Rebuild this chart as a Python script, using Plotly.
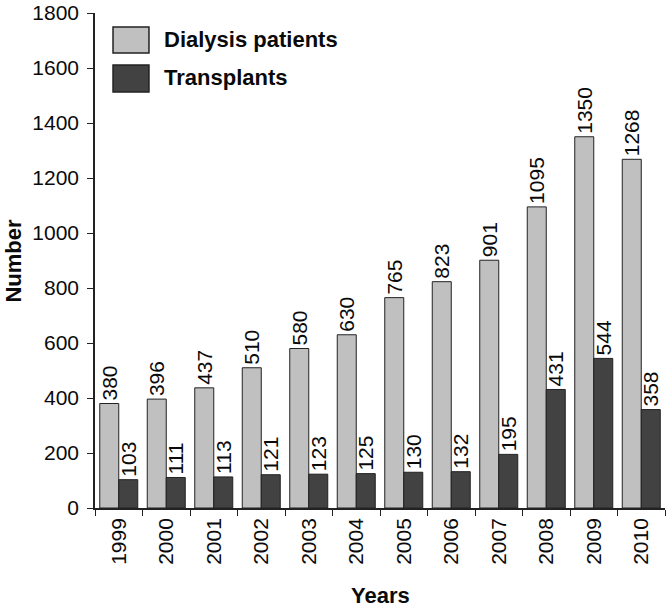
import plotly.graph_objects as go

years = ["1999", "2000", "2001", "2002", "2003", "2004", "2005", "2006", "2007", "2008", "2009", "2010"]
dialysis = [380, 396, 437, 510, 580, 630, 765, 823, 901, 1095, 1350, 1268]
transplants = [103, 111, 113, 121, 123, 125, 130, 132, 195, 431, 544, 358]
y_ticks = [0, 200, 400, 600, 800, 1000, 1200, 1400, 1600, 1800]

LIGHT = "#c0c0c0"
DARK = "#424242"
EDGE = "#222222"
TXT = "#0a0a0a"
FONT = "Liberation Sans, Arial, sans-serif"

fig = go.Figure()
fig.add_bar(x=years, y=dialysis, name="Dialysis patients", marker=dict(color=LIGHT, line=dict(color=EDGE, width=1)),
            text=[str(v) for v in dialysis], textposition="outside", textangle=-90, constraintext="none",
            textfont=dict(family=FONT, size=21, color=TXT), cliponaxis=False, showlegend=False)
fig.add_bar(x=years, y=transplants, name="Transplants", marker=dict(color=DARK, line=dict(color=EDGE, width=1)),
            text=[str(v) for v in transplants], textposition="outside", textangle=-90, constraintext="none",
            textfont=dict(family=FONT, size=21, color=TXT), cliponaxis=False, showlegend=False)

fig.update_layout(
    width=667, height=609,
    margin=dict(l=95, r=2, t=13, b=101),
    paper_bgcolor="white", plot_bgcolor="white",
    barmode="group", bargap=0.2, bargroupgap=0,
    font=dict(family=FONT, color=TXT),
    xaxis=dict(showline=True, linecolor="#222", linewidth=1.5, ticks="outside", tickson="boundaries",
               ticklen=6, tickcolor="#222", tickangle=-90, tickfont=dict(size=21),
               showgrid=False, automargin=False),
    yaxis=dict(range=[0, 1800], tickvals=y_ticks, showline=True, linecolor="#222", linewidth=1.5,
               ticks="outside", ticklen=6, tickcolor="#222", tickfont=dict(size=21), ticklabelstandoff=4,
               ticklabeloverflow="allow", showgrid=False, zeroline=False, automargin=False),
)

# axis titles (plot area: x 95..665, y 13..508 px)
fig.add_annotation(xref="paper", yref="paper", x=-0.1438, y=0.5, text="Number", textangle=-90, showarrow=False,
                   xanchor="center", yanchor="middle", font=dict(size=22, weight="bold", family=FONT, color=TXT))
fig.add_annotation(xref="paper", yref="paper", x=0.5, y=-0.176, text="Years", showarrow=False,
                   xanchor="center", yanchor="middle", font=dict(size=22, weight="bold", family=FONT, color=TXT))

# custom legend with large swatches
legend_items = [("Dialysis patients", LIGHT, 0.9717, 0.9192, 0.9455), ("Transplants", DARK, 0.895, 0.8404, 0.8687)]
for label, col, ytop, ybot, ytxt in legend_items:
    fig.add_shape(type="rect", xref="paper", yref="paper", x0=0.0316, x1=0.0947, y0=ybot, y1=ytop,
                  fillcolor=col, line=dict(color=EDGE, width=1.5))
    fig.add_annotation(xref="paper", yref="paper", x=0.1175, y=ytxt, text=label, showarrow=False,
                       xanchor="left", yanchor="middle", font=dict(size=22, weight="bold", family=FONT, color=TXT))

fig.write_html("out.html", config={"displayModeBar": False},
               post_script="document.body.style.margin='0';")
